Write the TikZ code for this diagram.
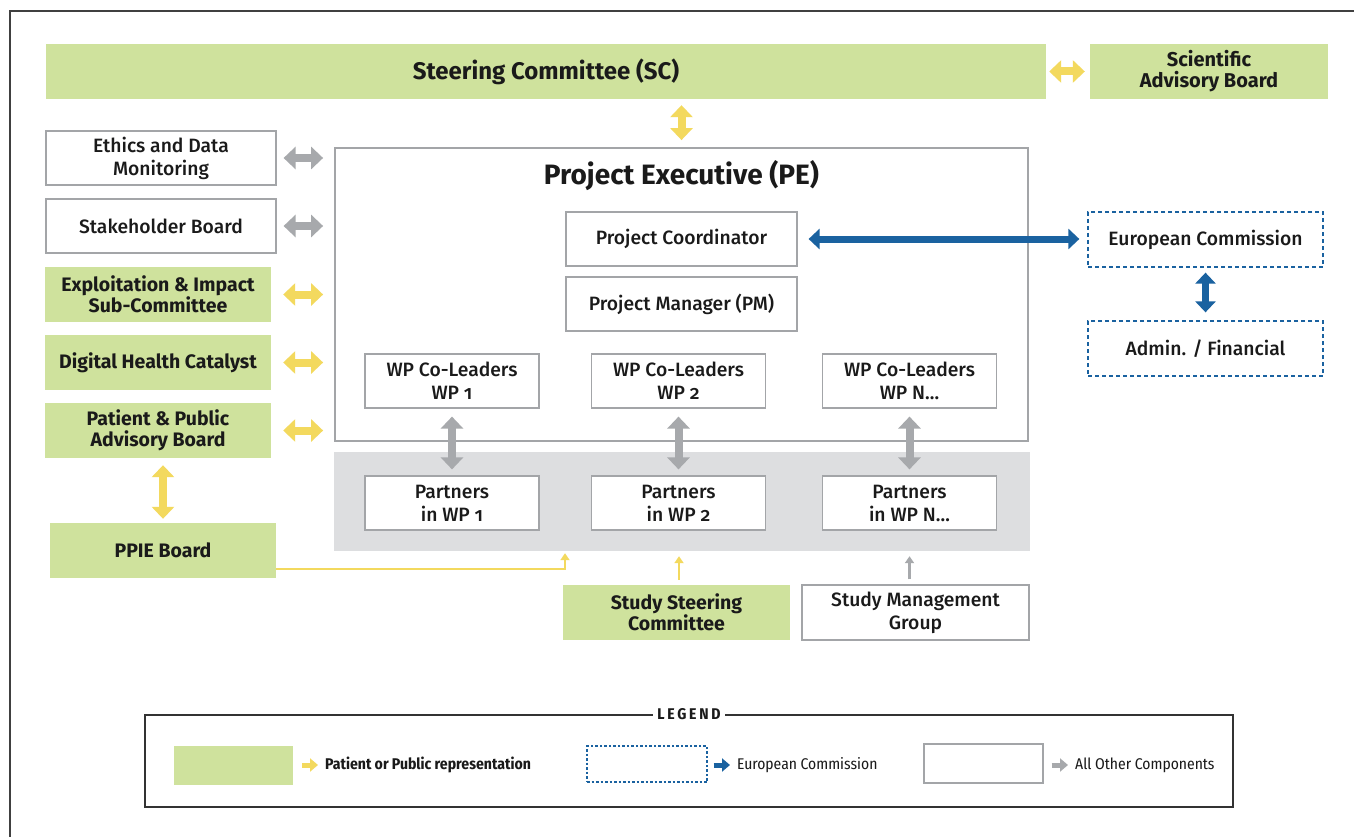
\documentclass[tikz,border=0pt]{standalone}
\usepackage{fontspec}
\IfFontExistsTF{Fira Sans Medium}
 {\setmainfont{Fira Sans}[UprightFont={* Medium},BoldFont={* Bold},Numbers=OldStyle]}
 {\setmainfont{Fira Sans}[Numbers=OldStyle]}
\IfFontExistsTF{Fira Sans Condensed}
 {\newfontfamily\condfont{Fira Sans Condensed}
  \newfontfamily\legfont{Fira Sans Condensed}[LetterSpace=18]}
 {\newfontfamily\condfont{Fira Sans}[FakeStretch=0.85]
  \newfontfamily\legfont{Fira Sans}[FakeStretch=0.85,LetterSpace=18]}
\usetikzlibrary{arrows.meta}
\definecolor{pgreen}{HTML}{CFE29D}
\definecolor{pyellow}{HTML}{F3D95E}
\definecolor{pgray}{HTML}{A7A9AC}
\definecolor{pblue}{HTML}{1A62A0}
\definecolor{bandgray}{HTML}{DDDEE0}
\definecolor{boxline}{HTML}{A3A5A8}
\definecolor{ink}{HTML}{1A1A1A}
\tikzset{
  box/.style={inner sep=0pt, align=center, text=ink, font=\fontsize{19.3}{23}\selectfont},
  wbox/.style={box, draw=boxline, line width=1.2pt, fill=white},
  gbox/.style={box, fill=pgreen, font=\fontsize{19.5}{21.5}\selectfont\bfseries},
  ebox/.style={box, draw=pblue, dash pattern=on 4pt off 3pt, line width=1.3pt},
  fatarr/.style={line width=8pt, {Triangle[width=22pt,length=12pt]}-{Triangle[width=22pt,length=12pt]}},
  gfat/.style={fatarr, draw=pgray},
  yfat/.style={fatarr, draw=pyellow},
  bfat/.style={line width=7pt, draw=pblue, {Triangle[width=20pt,length=11pt]}-{Triangle[width=20pt,length=11pt]}},
  yline/.style={line width=2.5pt, draw=pyellow, -{Triangle[width=9pt,length=7pt]}},
  gline/.style={line width=2.5pt, draw=pgray, -{Triangle[width=9pt,length=7pt]}},
  legarr/.style={line width=5pt, -{Triangle[width=13pt,length=8pt]}},
  legtxt/.style={inner sep=0pt, anchor=west, text=ink, font=\condfont\fontsize{15.5}{18}\selectfont},
}
\begin{document}
\begin{tikzpicture}[x=1pt,y=-1pt]
\useasboundingbox (0,0) rectangle (1354,837);
\fill[white] (0,0) rectangle (1354,837);
\draw[line width=1.3pt, draw=black!75] (10,837) -- (10,11) -- (1354,11);

% top
\node[gbox, minimum width=1000pt, minimum height=55pt, font=\fontsize{24}{28}\selectfont\bfseries] (sc) at (546,71.5) {Steering Committee (SC)};
\node[gbox, minimum width=238pt, minimum height=55pt, font=\fontsize{20}{21}\selectfont\bfseries] (sab) at (1209,71.5) {Scientific\\Advisory Board};

% project executive
\node[draw=boxline, line width=1.8pt, fill=white, minimum width=693pt, minimum height=293pt, inner sep=0pt] (pe) at (681.5,294.5) {};
\node[inner sep=0pt, text=ink, font=\fontsize{28}{32}\selectfont\bfseries] (pet) at (681.5,175.5) {Project Executive (PE)};
\node[wbox, minimum width=231pt, minimum height=54pt] (pc) at (681.5,239) {Project Coordinator};
\node[wbox, minimum width=231pt, minimum height=54pt] (pm) at (681.5,304) {Project Manager (PM)};
\node[wbox, minimum width=174pt, minimum height=54pt] (w1) at (452,381) {WP Co-Leaders\\WP 1};
\node[wbox, minimum width=174pt, minimum height=54pt] (w2) at (678.5,381) {WP Co-Leaders\\WP 2};
\node[wbox, minimum width=174pt, minimum height=54pt] (wn) at (909.5,381) {WP Co-Leaders\\WP N\ldots};

% partners band
\node[fill=bandgray, minimum width=696pt, minimum height=99pt, inner sep=0pt] (band) at (682,501.5) {};
\node[wbox, minimum width=174pt, minimum height=54pt] (p1) at (452,503) {Partners\\in WP 1};
\node[wbox, minimum width=174pt, minimum height=54pt] (p2) at (678.5,503) {Partners\\in WP 2};
\node[wbox, minimum width=174pt, minimum height=54pt] (pn) at (909.5,503) {Partners\\in WP N\ldots};

% left column
\node[wbox, minimum width=230pt, minimum height=54pt] (eth) at (161,158) {Ethics and Data\\Monitoring};
\node[wbox, minimum width=230pt, minimum height=54pt] (stk) at (161,226) {Stakeholder Board};
\node[gbox, minimum width=226pt, minimum height=55pt] (exp) at (158,294.5) {Exploitation \& Impact\\Sub-Committee};
\node[gbox, minimum width=226pt, minimum height=55pt] (dhc) at (158,362.5) {Digital Health Catalyst};
\node[gbox, minimum width=226pt, minimum height=55pt] (ppab) at (158,430.5) {Patient \& Public\\Advisory Board};
\node[gbox, minimum width=226pt, minimum height=55pt] (ppie) at (163,550.5) {PPIE Board};

% bottom
\node[gbox, minimum width=227pt, minimum height=55pt] (ssc) at (676.5,612.5) {Study Steering\\Committee};
\node[wbox, minimum width=227pt, minimum height=55pt] (smg) at (915.5,612.5) {Study Management\\Group};

% European Commission
\node[ebox, minimum width=235pt, minimum height=55pt] (ec) at (1205.5,239.5) {European Commission};
\node[ebox, minimum width=235pt, minimum height=55pt] (adm) at (1205.5,348.5) {Admin. / Financial};

% arrows
\draw[yfat, shorten <=3pt, shorten >=5pt] (sc.east) -- (sab.west);
\draw[yfat, shorten <=6pt, shorten >=7pt] (sc.south -| pe.north) -- (pe.north);
\draw[gfat, shorten <=7pt, shorten >=11pt] (eth.east) -- (eth.east -| pe.west);
\draw[gfat, shorten <=7pt, shorten >=11pt] (stk.east) -- (stk.east -| pe.west);
\draw[yfat, shorten <=12pt, shorten >=11pt] (exp.east) -- (exp.east -| pe.west);
\draw[yfat, shorten <=12pt, shorten >=11pt] (dhc.east) -- (dhc.east -| pe.west);
\draw[yfat, shorten <=12pt, shorten >=11pt] (ppab.east) -- (ppab.east -| pe.west);
\draw[gfat, shorten <=8pt, shorten >=6pt] (w1.south) -- (p1.north);
\draw[gfat, shorten <=8pt, shorten >=6pt] (w2.south) -- (p2.north);
\draw[gfat, shorten <=8pt, shorten >=6pt] (wn.south) -- (pn.north);
\draw[yfat, shorten <=7pt, shorten >=4pt] (ppab.south -| ppie.north) -- (ppie.north);
\draw[bfat, shorten <=11pt, shorten >=8pt] (pc.east) -- (pc.east -| ec.west);
\draw[bfat, shorten <=5pt, shorten >=8pt] (ec.south) -- (adm.north);
\draw[yline] ([yshift=-18.5pt]ppie.east) -| ([xshift=-117pt,yshift=-2pt]band.south);
\draw[yline, shorten <=5pt, shorten >=5pt] ([xshift=2.5pt]ssc.north) -- ([xshift=2.5pt]ssc.north |- band.south);
\draw[gline, shorten <=5pt, shorten >=5pt] (pn.south |- smg.north) -- (pn.south |- band.south);

% legend
\node[draw=black!80, line width=1.3pt, minimum width=1088pt, minimum height=92pt, inner sep=0pt] (leg) at (689,761) {};
\node[fill=white, inner sep=4pt, text=ink, font=\legfont\fontsize{15.5}{17}\selectfont\bfseries] (legt) at (leg.north) {LEGEND};
\node[fill=pgreen, minimum width=119pt, minimum height=39pt, inner sep=0pt] (lg1) at (233.5,765.5) {};
\node[legtxt, font=\condfont\fontsize{15.5}{18}\selectfont\bfseries] (lt1) at (325,765) {Patient or Public representation};
\node[draw=pblue, dash pattern=on 2.5pt off 2pt, line width=1.2pt, minimum width=120pt, minimum height=36pt, inner sep=0pt] (lg2) at (647,764) {};
\node[legtxt] (lt2) at (737,765) {European Commission};
\node[draw=boxline, line width=1.2pt, minimum width=119pt, minimum height=39pt, inner sep=0pt] (lg3) at (983.5,763.5) {};
\node[legtxt] (lt3) at (1075,765) {All Other Components};
\draw[legarr, draw=pyellow, shorten <=9pt, shorten >=7pt] (lg1.east |- lt1.west) -- (lt1.west);
\draw[legarr, draw=pblue, shorten <=6pt, shorten >=7pt] (lg2.east |- lt2.west) -- (lt2.west);
\draw[legarr, draw=pgray, shorten <=8pt, shorten >=7pt] (lg3.east |- lt3.west) -- (lt3.west);
\end{tikzpicture}
\end{document}
